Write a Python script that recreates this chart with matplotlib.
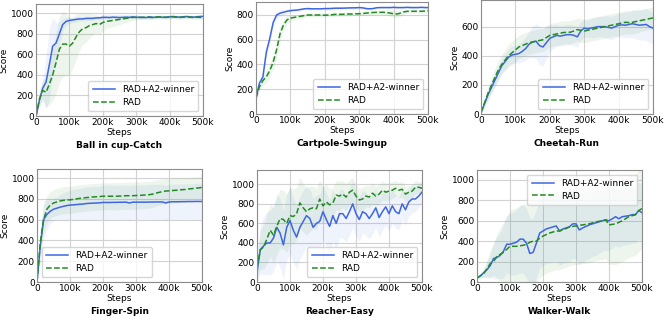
import numpy as np
import matplotlib
matplotlib.use("Agg")
import matplotlib.pyplot as plt
from matplotlib.transforms import offset_copy

# training steps, one point every 10k
steps = np.arange(0, 510000, 10000)

titles = ["Ball in cup-Catch", "Cartpole-Swingup", "Cheetah-Run",
          "Finger-Spin", "Reacher-Easy", "Walker-Walk"]
legend_locs = ["lower right", "lower right", "lower right",
               "lower left", "lower right", "upper right"]
ylims = [1090, 905, 783, 1087, 1147, 1098]

# ---- Ball in cup-Catch ----
ball_a2 = [0, 150, 270, 330, 500, 680, 710, 800, 890, 920, 930, 935, 940, 945, 945, 950, 950, 950, 955, 955, 960,
           960, 958, 962, 960, 958, 960, 962, 960, 965, 960, 962, 960, 958, 965, 960, 962, 965, 960, 962, 965,
           968, 965, 962, 965, 968, 965, 962, 965, 968, 970]
ball_a2_std = [0, 60, 100, 250, 350, 280, 200, 120, 60, 40, 30, 25, 25, 22, 20, 20, 20, 18, 18, 18, 18,
               16, 16, 16, 15, 15, 15, 15, 15, 15, 15, 15, 15, 15, 15, 15, 15, 15, 15, 15, 15,
               15, 15, 15, 15, 15, 15, 15, 15, 15, 15]
ball_rad = [0, 160, 250, 230, 310, 400, 520, 650, 700, 700, 680, 710, 770, 820, 850, 860, 880, 890, 900, 890, 910,
            920, 925, 930, 935, 940, 945, 950, 955, 960, 960, 958, 960, 962, 960, 958, 962, 965, 962, 960, 963,
            965, 962, 960, 962, 965, 963, 960, 962, 960, 960]
ball_rad_std = [0, 60, 100, 150, 200, 250, 300, 320, 320, 300, 280, 250, 220, 180, 150, 140, 120, 100, 90, 90, 80,
                70, 65, 60, 55, 50, 45, 40, 35, 30, 25, 22, 20, 20, 20, 20, 20, 20, 20, 20, 20,
                20, 20, 20, 20, 20, 20, 20, 20, 20, 20]

# ---- Cartpole-Swingup ----
cart_a2 = [130, 250, 300, 500, 610, 740, 800, 815, 822, 830, 835, 838, 840, 845, 850, 852, 850, 850, 850, 850, 852,
           852, 853, 855, 855, 855, 856, 857, 858, 858, 860, 858, 852, 850, 852, 858, 860,
           860, 860, 860, 862, 860, 860, 860, 862, 860, 860, 860, 862, 860, 860]
cart_a2_std = [20, 30, 35, 40, 40, 35, 30, 25, 20, 18, 15, 12, 12, 10, 10, 10, 10, 10, 10, 10, 10,
               10, 10, 10, 10, 10, 10, 10, 10, 10, 10, 10, 10, 10, 10, 10, 10,
               10, 10, 10, 10, 10, 10, 10, 10, 10, 10, 10, 10, 10, 10]
cart_rad = [130, 220, 270, 300, 350, 420, 520, 650, 720, 760, 775, 780, 785, 790, 795, 800, 800, 800, 800, 800, 798,
            800, 802, 805, 805, 805, 808, 808, 808, 810, 810, 812, 815, 818, 820, 822, 822, 822, 820, 815, 810,
            808, 815, 825, 830, 830, 830, 830, 830, 832, 835]
cart_rad_std = [20, 30, 40, 50, 55, 60, 60, 55, 45, 35, 25, 20, 20, 18, 15, 15, 15, 15, 15, 15, 15,
                15, 15, 15, 15, 15, 15, 15, 15, 15, 15, 15, 15, 15, 15, 15, 15, 15, 20, 25, 30,
                30, 25, 20, 15, 15, 15, 15, 15, 15, 15]

# ---- Cheetah-Run ----
cheetah_a2 = [10, 70, 130, 180, 230, 280, 330, 360, 390, 405, 410, 415, 430, 450, 480, 495, 500, 470, 460, 490, 520,
              530, 540, 535, 540, 545, 545, 540, 530, 570, 590, 585, 590, 595, 600, 600, 600, 595, 590, 600, 610,
              612, 610, 615, 620, 615, 610, 612, 615, 600, 590]
cheetah_a2_std = [10, 25, 35, 40, 45, 50, 50, 55, 55, 60, 60, 65, 70, 80, 90, 110, 120, 130, 130, 110, 90,
                  80, 75, 70, 70, 70, 70, 70, 70, 65, 60, 60, 65, 70, 70, 70, 75, 80, 80, 80, 80,
                  85, 90, 90, 95, 100, 100, 105, 110, 110, 110]
cheetah_rad = [10, 75, 140, 195, 250, 300, 340, 370, 400, 420, 440, 460, 470, 480, 490, 495, 500, 505, 510, 525, 540,
               545, 550, 555, 560, 560, 562, 570, 580, 575, 570, 575, 580, 585, 590, 595, 600, 605, 610, 615, 620,
               625, 630, 628, 630, 635, 640, 645, 650, 655, 660]
cheetah_rad_std = [10, 30, 45, 55, 60, 65, 70, 75, 80, 80, 80, 80, 80, 80, 80, 80, 80, 80, 80, 80, 80,
                   80, 80, 80, 80, 80, 80, 80, 80, 80, 80, 80, 80, 80, 80, 80, 80, 80, 80, 80, 80,
                   80, 80, 80, 80, 80, 80, 75, 75, 75, 75]

# ---- Finger-Spin ----
finger_a2 = [0, 350, 600, 650, 680, 700, 710, 720, 728, 735, 740, 742, 745, 748, 750, 755, 757, 758, 760, 762, 765,
             765, 765, 766, 766, 767, 767, 768, 760, 768, 768, 768, 768, 768, 769, 769, 770, 770, 770, 760, 770,
             772, 772, 772, 773, 773, 774, 774, 775, 775, 775]
finger_a2_std = [0, 150, 170, 150, 120, 110, 110, 120, 130, 140, 140, 150, 150, 155, 155, 160, 160, 160, 160, 160, 165,
                 165, 165, 165, 165, 165, 165, 165, 165, 165, 165, 165, 165, 165, 170, 170, 170, 170, 170, 170, 170,
                 170, 170, 170, 170, 170, 170, 170, 175, 175, 175]
finger_rad = [0, 380, 600, 700, 740, 760, 770, 780, 785, 790, 790, 795, 800, 805, 808, 812, 815, 818, 820, 822, 825,
              825, 825, 825, 825, 826, 828, 830, 830, 830, 832, 833, 835, 838, 840, 845, 855, 862, 870, 875, 877,
              880, 882, 885, 888, 890, 895, 898, 902, 905, 910]
finger_rad_std = [0, 120, 130, 130, 130, 130, 130, 130, 130, 130, 130, 130, 130, 130, 130, 130, 130, 130, 130, 130, 130,
                  130, 130, 130, 130, 130, 130, 130, 130, 130, 130, 130, 130, 130, 130, 130, 125, 125, 120, 120, 120,
                  120, 120, 120, 115, 115, 110, 110, 110, 110, 110]

# ---- Reacher-Easy ----
reacher_a2 = [100, 330, 370, 400, 400, 450, 560, 500, 380, 560, 630, 530, 460, 560, 620, 680, 650, 560, 600, 620, 720,
              640, 570, 680, 600, 700, 700, 650, 720, 800, 700, 640, 720, 700, 650, 700, 760, 660, 720, 770, 700,
              780, 720, 700, 800, 740, 820, 850, 850, 880, 920]
reacher_a2_std = [100, 250, 300, 320, 330, 340, 350, 350, 350, 340, 340, 330, 330, 320, 320, 310, 300, 300, 290, 280, 280,
                  270, 270, 260, 260, 250, 250, 240, 240, 240, 230, 230, 220, 220, 210, 210, 200, 200, 190, 190, 180,
                  180, 170, 170, 160, 150, 150, 140, 130, 120, 110]
reacher_rad = [150, 330, 360, 440, 530, 480, 570, 650, 640, 600, 680, 670, 700, 810, 760, 720, 750, 760, 750, 850, 780,
               820, 790, 810, 890, 880, 900, 870, 920, 940, 880, 840, 850, 880, 870, 910, 880, 900, 940, 920, 930,
               940, 960, 940, 950, 900, 920, 930, 970, 970, 960]
reacher_rad_std = [100, 200, 230, 250, 270, 280, 300, 300, 300, 300, 290, 280, 270, 260, 250, 240, 230, 220, 210, 200, 190,
                   180, 170, 160, 150, 150, 140, 140, 130, 130, 120, 120, 120, 110, 110, 110, 100, 100, 100, 90, 90,
                   90, 80, 80, 80, 80, 70, 70, 70, 60, 60]

# ---- Walker-Walk ----
walker_a2 = [40, 60, 90, 120, 160, 230, 240, 260, 300, 370, 370, 380, 390, 420, 420, 380, 280, 290, 380, 480, 500,
             520, 530, 540, 550, 500, 520, 530, 540, 570, 570, 510, 530, 545, 560, 570, 580, 590, 600, 610, 600,
             620, 640, 620, 640, 645, 650, 660, 660, 700, 680]
walker_a2_std = [10, 20, 40, 80, 120, 160, 200, 230, 260, 280, 300, 310, 320, 330, 340, 340, 340, 340, 340, 340, 340,
                 340, 340, 340, 340, 340, 340, 340, 340, 340, 340, 340, 340, 330, 330, 320, 320, 310, 300, 300, 290,
                 290, 280, 280, 280, 280, 280, 280, 280, 280, 280]
walker_rad = [40, 60, 80, 130, 180, 200, 250, 270, 290, 320, 350, 350, 350, 355, 360, 370, 390, 400, 400, 430, 450,
              465, 480, 490, 500, 500, 510, 525, 540, 545, 550, 555, 560, 565, 570, 580, 590, 595, 600, 610, 560,
              565, 570, 585, 600, 620, 640, 650, 660, 700, 720]
walker_rad_std = [10, 20, 40, 80, 130, 170, 220, 260, 300, 330, 350, 370, 380, 390, 400, 400, 400, 400, 400, 390, 380,
                  380, 380, 380, 380, 380, 380, 380, 380, 380, 380, 380, 380, 380, 380, 380, 380, 380, 380, 380, 390,
                  390, 400, 400, 400, 400, 400, 400, 400, 400, 400]

a2_means = [ball_a2, cart_a2, cheetah_a2, finger_a2, reacher_a2, walker_a2]
a2_stds = [ball_a2_std, cart_a2_std, cheetah_a2_std, finger_a2_std, reacher_a2_std, walker_a2_std]
rad_means = [ball_rad, cart_rad, cheetah_rad, finger_rad, reacher_rad, walker_rad]
rad_stds = [ball_rad_std, cart_rad_std, cheetah_rad_std, finger_rad_std, reacher_rad_std, walker_rad_std]

blue = "#3f66e0"
green = "#228b22"
fs = 6.5

fig = plt.figure(figsize=(6.64, 3.2), dpi=100)

# axes boxes in pixels: left, right, top, bottom
boxes = [(36, 203, 4, 116), (256, 428, 2, 114), (481, 653, 0, 114),
         (37, 202, 169, 282), (257, 422, 170, 282), (477, 642, 170, 282)]

for i, (l, r, t, b) in enumerate(boxes):
    ax = fig.add_axes([l / 664, 1 - b / 320, (r - l) / 664, (b - t) / 320])
    m1 = np.array(a2_means[i]); s1 = np.array(a2_stds[i])
    m2 = np.array(rad_means[i]); s2 = np.array(rad_stds[i])
    ax.fill_between(steps, m1 - s1, m1 + s1, color=blue, alpha=0.08, linewidth=0)
    ax.fill_between(steps, m2 - s2, m2 + s2, color=green, alpha=0.08, linewidth=0)
    ax.plot(steps, m1, color=blue, lw=1.1, label="RAD+A2-winner")
    ax.plot(steps, m2, color=green, lw=1.1, ls="--", label="RAD")
    ax.set_xlim(0, 500000)
    ax.set_ylim(0, ylims[i])
    ax.set_xticks(np.arange(0, 500001, 100000))
    ax.set_xticklabels(["0", "100k", "200k", "300k", "400k", "500k"])
    ax.set_yticks(np.arange(0, ylims[i], 200))
    ax.grid(True, color="#d2d2d2", lw=0.8)
    ax.set_axisbelow(True)
    for sp in ax.spines.values():
        sp.set_color("#8c8c8c")
        sp.set_linewidth(0.8)
    ax.tick_params(length=0, labelsize=fs, pad=1.5)
    ax.set_ylabel("Score", fontsize=fs, labelpad=2)
    ax.set_xlabel("Steps", fontsize=fs, labelpad=0.5)
    trans = offset_copy(ax.transAxes, fig=fig, x=0, y=-30, units="dots")
    ax.text(0.5, 0, titles[i], transform=trans, ha="center", va="center",
            fontsize=fs, fontweight="bold")
    ax.legend(loc=legend_locs[i], fontsize=fs, frameon=True, fancybox=True,
              handlelength=2.4, borderpad=0.5, labelspacing=0.4)

fig.savefig("out.png", dpi=100)
